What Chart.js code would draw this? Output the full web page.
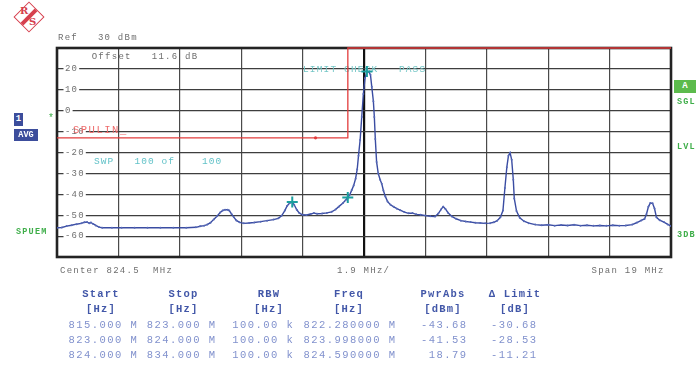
<!DOCTYPE html>
<html>
<head>
<meta charset="utf-8">
<script src="https://cdn.jsdelivr.net/npm/chart.js@4/dist/chart.umd.min.js"></script>
<style>
  html, body { margin: 0; padding: 0; background: #fff; }
  body { position: relative; width: 696px; height: 365px; overflow: hidden; }
  canvas { position: absolute; left: 0; top: 0; }
  .m { position: absolute; font-family: 'Liberation Mono', monospace; white-space: pre; line-height: 12px; }
  .g { color: #6e6e6e; font-size: 9px; letter-spacing: 1.25px; }
  .grn { color: #3fae4a; font-weight: bold; font-size: 8.5px; letter-spacing: 1.2px; }
  .hd { color: #4257a8; font-weight: bold; font-size: 10.5px; letter-spacing: 1.2px; text-align: center; width: 120px; }
  .val { color: #8191cd; font-size: 10.5px; letter-spacing: 1.45px; text-align: right; }
  .box { position: absolute; color: #fff; font-family: 'Liberation Mono', monospace; font-weight: bold; text-align: center; }
</style>
</head>
<body>
<!-- R&S logo -->
<div style="position:absolute;left:18px;top:6px;width:20px;height:20px;border:1.5px solid #d6404e;transform:rotate(45deg);">
  <div style="position:absolute;left:8px;top:0;width:4px;height:20px;background:#d6404e;"></div>
</div>
<div class="m" style="left:20px;top:5px;font-size:10px;font-weight:bold;color:#d6404e;font-family:'DejaVu Serif',serif;">R</div>
<div class="m" style="left:29px;top:16px;font-size:10px;font-weight:bold;color:#d6404e;font-family:'DejaVu Serif',serif;">S</div>

<canvas id="c" width="696" height="365"></canvas>

<div class="m g" style="left:58px;top:31.5px;">Ref   30 dBm</div>

<div class="box" style="left:14px;top:113px;width:9px;height:13px;background:#3c4d9c;font-size:9px;line-height:13px;">1</div>
<div class="box" style="left:14px;top:128.5px;width:24px;height:12.5px;background:#3c4d9c;font-size:8.5px;line-height:12.5px;">AVG</div>
<div class="m" style="left:48px;top:113px;color:#3fae4a;font-size:10px;">*</div>
<div class="m grn" style="left:16px;top:226px;">SPUEM</div>

<div class="box" style="left:674px;top:79.5px;width:22px;height:13px;background:#5cbb4c;font-size:9px;line-height:13px;">A</div>
<div class="m grn" style="left:677px;top:95.5px;">SGL</div>
<div class="m grn" style="left:677px;top:141px;">LVL</div>
<div class="m grn" style="left:677px;top:228.5px;">3DB</div>

<div class="m g" style="left:60px;top:264.5px;">Center 824.5  MHz</div>
<div class="m g" style="left:337px;top:264.5px;">1.9 MHz/</div>
<div class="m g" style="left:591.5px;top:264.5px;">Span 19 MHz</div>

<div id="table"></div>

<script>
// Analyzer settings
const centerMHz = 824.5;
const spanMHz = 19;
const refLevel = 30;
const levelTicks = [20, 10, 0, -10, -20, -30, -40, -50, -60];

// Averaged sweep (MHz, dBm)
const traceFreqs = [
  815.00, 815.15, 815.30, 815.45, 815.60, 815.75, 815.85, 815.93, 816.00, 816.05,
  816.12, 816.20, 816.30, 816.40, 816.70, 817.00, 817.40, 817.80, 818.20, 818.60,
  819.00, 819.30, 819.43, 819.55, 819.65, 819.75, 819.85, 819.95, 820.05, 820.13,
  820.20, 820.28, 820.33, 820.40, 820.47, 820.55, 820.65, 820.78, 820.95, 821.10,
  821.30, 821.50, 821.70, 821.85, 821.95, 822.05, 822.12, 822.20, 822.28, 822.34,
  822.42, 822.50, 822.60, 822.72, 822.85, 822.95, 823.05, 823.20, 823.35, 823.50,
  823.62, 823.72, 823.85, 823.93, 823.998, 824.06, 824.12, 824.18, 824.24, 824.29,
  824.33, 824.38, 824.43, 824.48, 824.53, 824.59, 824.65, 824.70, 824.74, 824.79,
  824.82, 824.85, 824.89, 824.94, 825.00, 825.05, 825.10, 825.16, 825.23, 825.32,
  825.42, 825.52, 825.62, 825.75, 825.88, 826.00, 826.12, 826.25, 826.40, 826.55,
  826.70, 826.80, 826.88, 826.95, 827.02, 827.10, 827.22, 827.35, 827.50, 827.65,
  827.80, 827.95, 828.10, 828.25, 828.40, 828.52, 828.62, 828.72, 828.80, 828.86,
  828.92, 828.97, 829.02, 829.07, 829.12, 829.15, 829.22, 829.32, 829.45, 829.60,
  829.80, 830.00, 830.20, 830.40, 830.60, 830.80, 831.00, 831.20, 831.40, 831.60,
  831.80, 832.00, 832.20, 832.40, 832.60, 832.80, 832.95, 833.08, 833.18, 833.24,
  833.30, 833.36, 833.43, 833.49, 833.55, 833.65, 833.78, 833.90, 834.00
];
const traceLevels = [
  -56.0, -55.9, -55.2, -54.8, -54.3, -53.9, -53.4, -53.3, -53.8, -53.5,
  -54.2, -54.9, -55.7, -56.0, -56.0, -56.0, -56.0, -56.0, -56.0, -56.0,
  -56.0, -55.8, -55.3, -55.0, -54.5, -53.6, -52.0, -50.5, -48.7, -47.7,
  -47.4, -47.4, -47.8, -49.4, -50.9, -52.5, -53.4, -53.9, -53.7, -53.5,
  -53.1, -52.6, -52.1, -51.5, -50.3, -47.8, -45.6, -44.2, -43.68, -45.0,
  -47.4, -49.0, -49.8, -49.9, -49.4, -49.0, -49.3, -49.2, -48.9, -48.4,
  -47.3, -45.9, -44.2, -42.8, -41.53, -40.2, -38.0, -35.8, -32.5, -28.0,
  -21.5, -14.0, -3.0, 8.0, 15.5, 18.79, 18.6, 17.2, 11.5, 4.5,
  -3.0, -13.5, -24.5, -30.0, -33.0, -35.0, -38.2, -41.0, -43.5, -45.0,
  -46.0, -46.9, -47.6, -48.5, -49.1, -49.0, -49.6, -49.8, -50.2, -50.5,
  -50.6, -49.2, -47.3, -45.9, -47.0, -48.8, -50.6, -51.7, -52.6, -53.0,
  -53.3, -53.6, -53.7, -53.9, -53.8, -53.4, -52.6, -51.0, -47.8, -37.0,
  -27.0, -21.5, -20.1, -23.5, -33.0, -42.0, -48.0, -51.2, -52.9, -53.8,
  -54.5, -54.8, -54.6, -55.0, -54.7, -54.9, -54.6, -55.0, -54.8, -55.1,
  -54.9, -55.1, -54.8, -55.0, -54.9, -54.5, -53.5, -52.5, -51.8, -49.5,
  -46.0, -44.2, -44.3, -46.8, -51.0, -52.4, -53.3, -54.4, -55.2
];

// Spurious emission ranges and their limit lines
const rangeStart = ['815.000 M', '823.000 M', '824.000 M'];
const rangeStop  = ['823.000 M', '824.000 M', '834.000 M'];
const rangeRbw   = ['100.00 k', '100.00 k', '100.00 k'];
const rangeLimit = [-13, -13, 30];
const limitFreqs  = [815, 823, 824, 824, 834];
const limitLevels = [-13, -13, -13, 30, 30];

// Peak markers per range
const markerFreqs  = [822.28, 823.998, 824.59];
const markerLevels = [-43.68, -41.53, 18.79];

const startMHz = centerMHz - spanMHz / 2;
const stopMHz = centerMHz + spanMHz / 2;
const divMHz = spanMHz / 10;

function mono(ctx, s, x, y, pitch, font, color) {
  ctx.save();
  ctx.font = font;
  ctx.fillStyle = color;
  ctx.textBaseline = 'middle';
  ctx.textAlign = 'left';
  for (let i = 0; i < s.length; i++) {
    if (s[i] !== ' ') ctx.fillText(s[i], x + i * pitch, y);
  }
  ctx.restore();
}

const overlay = {
  id: 'overlay',
  beforeDatasetsDraw(chart) {
    const ctx = chart.ctx;
    const a = chart.chartArea;
    const ys = chart.scales.y;
    // frame
    ctx.save();
    ctx.strokeStyle = '#232323';
    ctx.lineWidth = 2.6;
    ctx.strokeRect(a.left, a.top, a.right - a.left, a.bottom - a.top);
    ctx.restore();
    // level labels inside the grid
    const pitch = 6.6;
    levelTicks.forEach(v => {
      const y = ys.getPixelForValue(v);
      const s = String(v);
      ctx.save();
      ctx.fillStyle = '#fff';
      ctx.fillRect(a.left + 6.5, y - 3, s.length * pitch + 2.5, 6);
      ctx.restore();
      mono(ctx, s, a.left + 8, y, pitch, '9px "Liberation Mono"', '#707070');
    });
    mono(ctx, 'Offset   11.6 dB', 91.7, 57, 6.67, '9px "Liberation Mono"', '#6e6e6e');
    mono(ctx, 'LIMIT CHECK   PASS', 303, 69.5, 6.85, '9.5px "Liberation Mono"', '#74c6c6');
    mono(ctx, 'SWP   100 of    100', 94, 161, 6.75, '9.5px "Liberation Mono"', '#62c2c8');
    mono(ctx, 'SPULIN', 73, 130, 7.8, '10.5px "Liberation Mono"', '#ee6a6a');
    mono(ctx, '_', 120, 131, 7.8, '10.5px "Liberation Mono"', '#ee6a6a');
  }
};

const ctx = document.getElementById('c').getContext('2d');
new Chart(ctx, {
  type: 'line',
  data: {
    datasets: [
      {
        label: 'Limit',
        data: limitFreqs.map((f, i) => ({ x: f, y: limitLevels[i] })),
        borderColor: '#e23c3c',
        borderWidth: 1.3,
        pointRadius: limitFreqs.map((f, i) => (i === 1 ? 1.6 : 0)),
        pointBackgroundColor: '#e23c3c',
        pointBorderWidth: 0,
        tension: 0,
        clip: 4,
        order: 3
      },
      {
        label: 'Trace',
        data: traceFreqs.map((f, i) => ({ x: f, y: traceLevels[i] })),
        borderColor: '#3a4ca2',
        borderWidth: 1.4,
        pointRadius: 1,
        pointBackgroundColor: '#5568b6',
        pointBorderWidth: 0,
        tension: 0,
        order: 2
      },
      {
        label: 'Markers',
        data: markerFreqs.map((f, i) => ({ x: f, y: markerLevels[i] })),
        showLine: false,
        pointStyle: 'cross',
        pointRadius: 5.5,
        pointBorderWidth: 2,
        pointBorderColor: '#1b9e9e',
        clip: false,
        order: 1
      }
    ]
  },
  options: {
    responsive: false,
    animation: false,
    devicePixelRatio: 1,
    layout: { padding: { left: 57, right: 25, top: 48, bottom: 108 } },
    plugins: { legend: { display: false }, tooltip: { enabled: false } },
    scales: {
      x: {
        type: 'linear',
        min: startMHz,
        max: stopMHz,
        afterBuildTicks: s => {
          s.ticks = Array.from({ length: 11 }, (_, i) => ({ value: startMHz + divMHz * i }));
        },
        ticks: { display: false },
        border: { display: false },
        grid: {
          drawTicks: false,
          color: c => (Math.abs(c.tick.value - centerMHz) < 1e-6 ? '#111' : '#4a4a4a'),
          lineWidth: c => (Math.abs(c.tick.value - centerMHz) < 1e-6 ? 2.2 : 1.2)
        }
      },
      y: {
        type: 'linear',
        min: refLevel - 100,
        max: refLevel,
        ticks: { display: false, stepSize: 10 },
        border: { display: false },
        grid: { drawTicks: false, color: '#3e3e3e', lineWidth: 1.2 }
      }
    }
  },
  plugins: [overlay]
});

// Result table
(function () {
  const t = document.getElementById('table');
  const headCenters = [101, 183.5, 269, 349, 443, 515];
  const colRight = [136.7, 215, 292.7, 395, 466, 536];
  const head1 = ['Start', 'Stop', 'RBW', 'Freq', 'PwrAbs', '\u0394 Limit'];
  const head2 = ['[Hz]', '[Hz]', '[Hz]', '[Hz]', '[dBm]', '[dB]'];
  const rowY = [324.3, 339.3, 354.3];
  let html = '';
  head1.forEach((h, i) => {
    html += `<div class="m hd" style="left:${headCenters[i] - 60}px;top:${293.3 - 5.5}px;">${h}</div>`;
    html += `<div class="m hd" style="left:${headCenters[i] - 60}px;top:${308.3 - 5.5}px;">${head2[i]}</div>`;
  });
  rowY.forEach((y, r) => {
    const cells = [
      rangeStart[r],
      rangeStop[r],
      rangeRbw[r],
      markerFreqs[r].toFixed(6) + ' M',
      markerLevels[r].toFixed(2),
      (markerLevels[r] - rangeLimit[r]).toFixed(2)
    ];
    cells.forEach((c, i) => {
      html += `<div class="m val" style="right:${696 - colRight[i] - 1.45}px;top:${y - 5.5}px;">${c}</div>`;
    });
  });
  t.innerHTML = html;
})();
</script>
</body>
</html>
